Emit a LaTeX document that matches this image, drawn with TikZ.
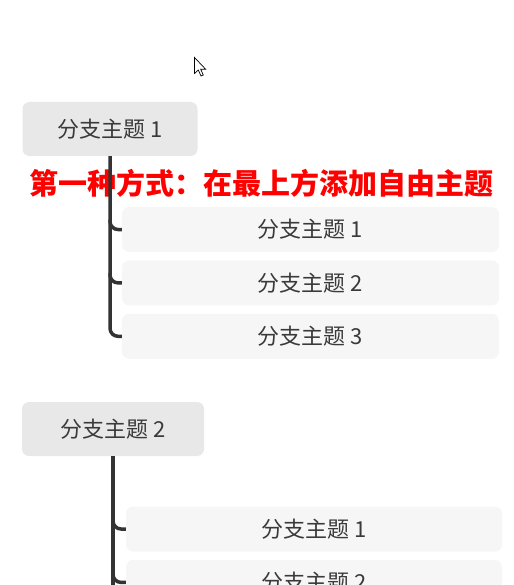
\documentclass[tikz,border=0pt]{standalone}
\usepackage{fontspec}
\newfontfamily\cjk{Noto Sans CJK SC}
\usetikzlibrary{positioning}

\definecolor{topicgray}{HTML}{E8E8E8}
\definecolor{subgray}{HTML}{F6F6F6}
\definecolor{linegray}{HTML}{333333}
\definecolor{txtgray}{HTML}{3A3A3A}

\tikzset{
  topic/.style={fill=topicgray, rounded corners=7pt, inner sep=0pt,
    text=txtgray, font=\cjk\fontsize{22}{26}\selectfont},
  subtopic/.style={fill=subgray, rounded corners=7pt, inner sep=0pt,
    minimum width=377pt, minimum height=45pt,
    text=txtgray, font=\cjk\fontsize{22}{26}\selectfont},
  branch/.style={draw=linegray, line width=3.5pt, rounded corners=8pt},
}

\begin{document}
\begin{tikzpicture}[x=1pt,y=-1pt]
\useasboundingbox (0,0) rectangle (513,585);
\clip (0,0) rectangle (513,585);

% Cursor
\draw[fill=white, line width=0.7pt] (194.5,57.5) -- (194.5,73.5) -- (198.3,70)
    -- (201,76) -- (203.3,75) -- (200.7,69.3) -- (205.7,69.3) -- cycle;

% Branch topic 1
\node[topic, minimum width=175pt, minimum height=54pt] (p1) at (110,129) {分支主题 1};

\node[text=red, font=\cjk\bfseries\fontsize{29}{33}\selectfont] (note) at (261.5,183)
    {第一种方式：在最上方添加自由主题};

\node[subtopic] (c11) at (310.5,229.5) {分支主题 1};
\node[subtopic, below=8pt of c11] (c12) {分支主题 2};
\node[subtopic, below=8pt of c12] (c13) {分支主题 3};

\draw[branch] (p1.south) |- (c13.west);
\draw[branch] (p1.south |- c11.west) ++(0,-10) |- (c11.west);
\draw[branch] (p1.south |- c12.west) ++(0,-10) |- (c12.west);

% Branch topic 2
\node[topic, minimum width=182pt, minimum height=54pt] (p2) at (113,429) {分支主题 2};

\node[subtopic, minimum width=376pt] (c21) at (314,529) {分支主题 1};
\node[subtopic, minimum width=376pt, below=8pt of c21] (c22) {分支主题 2};

\coordinate (t2end) at (113,600);
\draw[branch] (p2.south) -- (t2end);
\draw[branch] (p2.south |- c21.west) ++(0,-10) |- (c21.west);
\draw[branch] (p2.south |- c22.west) ++(0,-10) |- (c22.west);

\end{tikzpicture}
\end{document}
